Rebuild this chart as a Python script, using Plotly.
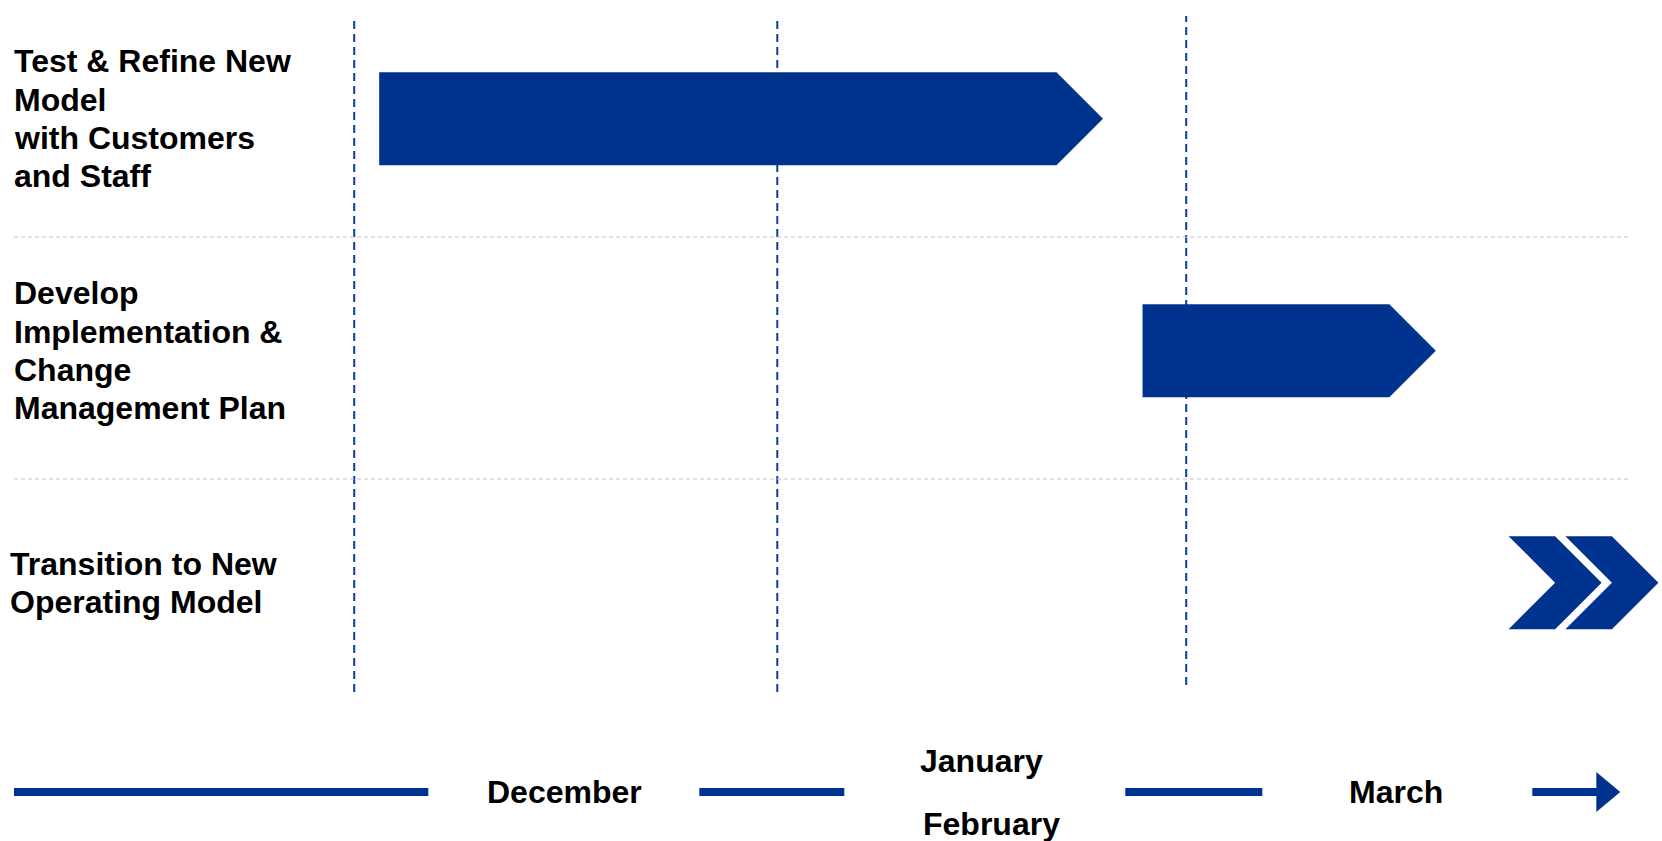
import plotly.graph_objects as go

# ---------------- data ----------------
task_labels = [
    "Test & Refine New<br>Model<br>with Customers<br>and Staff",
    "Develop<br>Implementation &<br>Change<br>Management Plan",
    "Transition to New<br>Operating Model",
]
# timeline units: periods since start of December (0 = Dec start, 1 = Jan start, 2 = March start)
task_start = [0.055, 1.89, 2.77]
task_end = [1.795, 2.595, 3.13]
task_kind = ["bar", "bar", "chevrons"]

phase_bounds = [-0.005, 1.012, 1.995]

period_names = [["December"], ["January", "February"], ["March"]]
period_mid = [0.5, 1.5, 2.5]

# ---------------- layout / style constants ----------------
W, H = 1662, 841
X_RANGE = [-0.8565, 3.1387]
Y_RANGE = [3.1135, -0.5115]
PX_X = W / (X_RANGE[1] - X_RANGE[0])
PX_Y = H / (Y_RANGE[0] - Y_RANGE[1])

BLUE = "#00338D"
DASH_BLUE = "#0A3FA0"
FONT = "Liberation Sans, Arial, sans-serif"
FS = 32
LINE_H = 38.2

BAR_H_PX = 93
bar_h = BAR_H_PX / PX_Y
tip = (BAR_H_PX / 2) / PX_X

LABEL_X_PX = [12, 12, 8]
VLINE_TOP_PX = 16
VLINE_BOTTOM_PX = [692, 692, 685]
SEP_Y_PX = [237, 479]

TL_Y_PX = 792
TL_GAP_L_PX = [136, 136, 134]
TL_GAP_R_PX = [135, 145, 136]
TL_START_PX = 14
TL_ARROW_LINE = 64 / PX_X
TL_HEAD_LEN = 24 / PX_X
TL_HEAD_H_PX = 40
TL_SUB_SHIFT = [[0], [31, -32], [0]]
TL_SUB_XSHIFT = [[0], [1, 11], [0]]


def py(px):
    return 1 - px / H


fig = go.Figure()

# ---------------- task marks ----------------
for i, (s, e, k) in enumerate(zip(task_start, task_end, task_kind)):
    top, bot = i - bar_h / 2, i + bar_h / 2
    if k == "bar":
        xs = [s, e - tip, e, e - tip, s, s]
        ys = [top, top, i, bot, bot, top]
    else:
        cw = 2 * tip
        n = 2
        step = (e - s - cw) / (n - 1)
        xs, ys = [], []
        for j in range(n):
            x0 = s + j * step
            xs += [x0, x0 + tip, x0 + 2 * tip, x0 + tip, x0, x0 + tip, x0, None]
            ys += [top, top, i, bot, bot, i, top, None]
    fig.add_trace(go.Scatter(
        x=xs, y=ys, mode="lines", fill="toself", fillcolor=BLUE,
        line=dict(width=0, color=BLUE), hoverinfo="skip", showlegend=False,
    ))

# ---------------- row labels (one annotation per line for exact spacing) ----------------
for i, lab in enumerate(task_labels):
    lines = lab.split("<br>")
    n = len(lines)
    for j, ln in enumerate(lines):
        fig.add_annotation(
            x=LABEL_X_PX[i] / W, xref="paper", y=i, yref="y",
            yshift=-(j - (n - 1) / 2) * LINE_H,
            text=ln, showarrow=False, xanchor="left", yanchor="middle", align="left",
            font=dict(family=FONT, size=FS, color="black", weight="bold"),
        )

shapes = []
# phase boundaries (vertical dashed)
for b, yb in zip(phase_bounds, VLINE_BOTTOM_PX):
    shapes.append(dict(
        type="line", xref="x", yref="paper", x0=b, x1=b,
        y0=py(yb), y1=py(VLINE_TOP_PX), layer="below",
        line=dict(color=DASH_BLUE, width=2, dash="8px,5px"),
    ))
# row separators
for sy in SEP_Y_PX:
    shapes.append(dict(
        type="line", xref="paper", yref="paper", x0=14 / W, x1=1629 / W,
        y0=py(sy), y1=py(sy), layer="below",
        line=dict(color="#C4C4C4", width=1, dash="4px,3px"),
    ))

# ---------------- bottom timeline ----------------
ty = py(TL_Y_PX)
seg_start = X_RANGE[0] + TL_START_PX / PX_X
for c, gl, gr in zip(period_mid, TL_GAP_L_PX, TL_GAP_R_PX):
    shapes.append(dict(
        type="line", xref="x", yref="paper", x0=seg_start, x1=c - gl / PX_X,
        y0=ty, y1=ty, line=dict(color=BLUE, width=8),
    ))
    seg_start = c + gr / PX_X
head_base = seg_start + TL_ARROW_LINE
shapes.append(dict(
    type="line", xref="x", yref="paper", x0=seg_start, x1=head_base + 0.003,
    y0=ty, y1=ty, line=dict(color=BLUE, width=8),
))
hy0, hy1 = py(TL_Y_PX - TL_HEAD_H_PX / 2), py(TL_Y_PX + TL_HEAD_H_PX / 2)
shapes.append(dict(
    type="path", xref="x", yref="paper",
    path=f"M {head_base} {hy0} L {head_base + TL_HEAD_LEN} {ty} L {head_base} {hy1} Z",
    fillcolor=BLUE, line=dict(width=0),
))

for names, c, shifts, xsh in zip(period_names, period_mid, TL_SUB_SHIFT, TL_SUB_XSHIFT):
    for nm, ys_, xs_ in zip(names, shifts, xsh):
        fig.add_annotation(
            x=c, xref="x", y=ty, yref="paper", yshift=ys_, xshift=xs_,
            text=nm, showarrow=False, xanchor="center", yanchor="middle",
            font=dict(family=FONT, size=FS, color="black", weight="bold"),
        )

fig.update_layout(
    width=W, height=H, margin=dict(l=0, r=0, t=0, b=0),
    paper_bgcolor="white", plot_bgcolor="white", shapes=shapes,
    showlegend=False,
    xaxis=dict(range=X_RANGE, visible=False, fixedrange=True),
    yaxis=dict(range=Y_RANGE, visible=False, fixedrange=True),
)

fig.write_html("out.html", config={"displayModeBar": False},
               post_script="document.body.style.margin='0';document.body.style.overflow='hidden';")
